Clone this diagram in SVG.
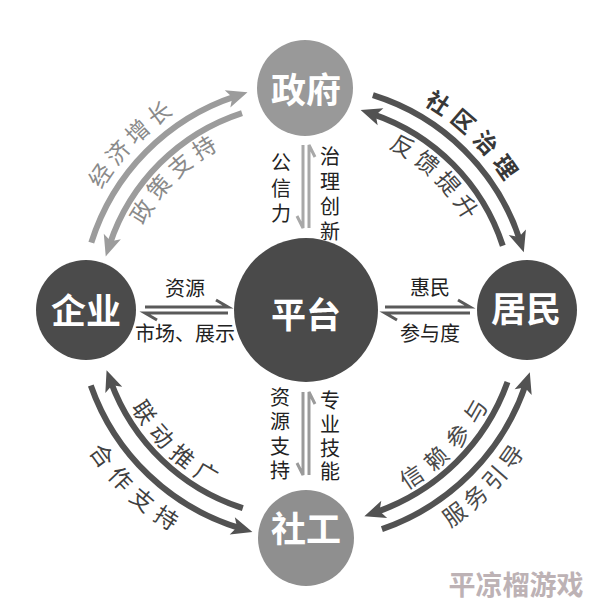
<svg xmlns="http://www.w3.org/2000/svg" width="594" height="612" viewBox="0 0 594 612">
<defs>
<style>
.cjk{font-family:"Noto Sans CJK SC","Noto Sans",sans-serif}
.nl{font-size:35px;font-weight:bold;fill:#fff;text-anchor:middle}
.lbl{font-size:20px;fill:#222;text-anchor:middle}
.arc{fill:none;stroke-width:6}
.light{stroke:#9c9c9c}
.dark{stroke:#525252}
.harp{fill:none;stroke-width:3;stroke-linejoin:miter}
.at{font-size:23px}
</style>
<marker id="ahL" markerUnits="userSpaceOnUse" markerWidth="32" markerHeight="26" viewBox="-10 -13 32 26" refX="0" refY="0" orient="auto"><path d="M12,0 L-9,-9 L-4,0 L-9,9 Z" fill="#9c9c9c"/></marker>
<marker id="ahD" markerUnits="userSpaceOnUse" markerWidth="32" markerHeight="26" viewBox="-10 -13 32 26" refX="0" refY="0" orient="auto"><path d="M12,0 L-9,-9 L-4,0 L-9,9 Z" fill="#525252"/></marker>
<path id="tp1" d="M69.4,296.8 A237,237 0 0 1 277.9,74.7"/>
<path id="tp2" d="M123.5,296.1 A183,183 0 0 1 288.0,127.9"/>
<path id="tp3" d="M320.1,73.4 A237,237 0 0 1 541.4,282.8"/>
<path id="tp4" d="M318.1,128.4 A182,182 0 0 1 486.9,290.3"/>
<path id="tp5" d="M106.9,329.2 A200,200 0 0 0 290.3,509.4"/>
<path id="tp6" d="M48.3,336.2 A259,259 0 0 0 287.0,568.3"/>
<path id="tp7" d="M326.8,514.9 A206,206 0 0 0 511.4,325.1"/>
<path id="tp8" d="M329.9,569.9 A261,261 0 0 0 566.1,331.6"/>
</defs>
<rect width="594" height="612" fill="#fff"/>

<g id="connectors">
  <!-- curved arrows -->
  <path class="arc light" d="M91.3,242.7 A225,225 0 0 1 236.1,96.1" marker-end="url(#ahL)"/>
  <path class="arc light" d="M242.0,113.1 A207,207 0 0 0 109.5,245.0" marker-end="url(#ahL)"/>
  <path class="arc dark" d="M372.9,95.2 A225,225 0 0 1 520.1,240.8" marker-end="url(#ahD)"/>
  <path class="arc dark" d="M502.8,245.7 A207,207 0 0 0 372.0,113.8" marker-end="url(#ahD)"/>
  <path class="arc dark" d="M242.8,508.2 A208,208 0 0 1 110.7,381.5" marker-end="url(#ahD)"/>
  <path class="arc dark" d="M90.8,385.4 A228,228 0 0 0 240.9,528.5" marker-end="url(#ahD)"/>
  <path class="arc dark" d="M507.5,382.1 A214,214 0 0 1 375.7,512.3" marker-end="url(#ahD)"/>
  <path class="arc dark" d="M381.9,529.2 A232,232 0 0 0 526.0,383.6" marker-end="url(#ahD)"/>

  <!-- straight harpoons -->
  <g stroke="#a8a8a8">
    <path class="harp" d="M303,145 L303,228 L297,216"/>
    <path class="harp" d="M309,228 L309,145 L315,157"/>
  </g>
  <g stroke="#9a9a9a">
    <path class="harp" d="M303,392 L303,475 L297,463"/>
    <path class="harp" d="M309,475 L309,392 L315,404"/>
  </g>
  <g stroke="#5a5a5a">
    <path class="harp" d="M145,307 L228,307 L216,300"/>
    <path class="harp" d="M228,313 L145,313 L157,320"/>
    <path class="harp" d="M385,307 L470,307 L458,300"/>
    <path class="harp" d="M470,313 L385,313 L397,320"/>
  </g>

  <!-- arc labels -->
  <text class="cjk at" fill="#8a8a8a" letter-spacing="4.6"><textPath href="#tp1" startOffset="167.8" text-anchor="middle">经济增长</textPath></text>
  <text class="cjk at" fill="#8a8a8a" letter-spacing="5.6"><textPath href="#tp2" startOffset="130.6" text-anchor="middle">政策支持</textPath></text>
  <text class="cjk at" fill="#383838" font-weight="bold" letter-spacing="7.1"><textPath href="#tp3" startOffset="169" text-anchor="middle">社区治理</textPath></text>
  <text class="cjk at" fill="#444" letter-spacing="5.2"><textPath href="#tp4" startOffset="129.7" text-anchor="middle">反馈提升</textPath></text>
  <text class="cjk at" fill="#404040" letter-spacing="7.5"><textPath href="#tp5" startOffset="143.4" text-anchor="middle">联动推广</textPath></text>
  <text class="cjk at" fill="#404040" letter-spacing="8.1"><textPath href="#tp6" startOffset="184.9" text-anchor="middle">合作支持</textPath></text>
  <text class="cjk at" fill="#4a4a4a" letter-spacing="9.1"><textPath href="#tp7" startOffset="148.3" text-anchor="middle">信赖参与</textPath></text>
  <text class="cjk at" fill="#4a4a4a" letter-spacing="5.1"><textPath href="#tp8" startOffset="184.7" text-anchor="middle">服务引导</textPath></text>

  <!-- straight labels -->
  <text class="cjk lbl" x="185" y="296">资源</text>
  <text class="cjk lbl" x="185" y="341">市场、展示</text>
  <text class="cjk lbl" x="430" y="295">惠民</text>
  <text class="cjk lbl" x="430" y="341">参与度</text>
  <g class="cjk lbl">
    <text x="281" y="169.6">公</text>
    <text x="281" y="195.6">信</text>
    <text x="281" y="220.6">力</text>
    <text x="330" y="163.6">治</text>
    <text x="330" y="188.6">理</text>
    <text x="330" y="213.6">创</text>
    <text x="330" y="238.6">新</text>
    <text x="280" y="404.6">资</text>
    <text x="280" y="429.1">源</text>
    <text x="280" y="453.6">支</text>
    <text x="280" y="478.1">持</text>
    <text x="330" y="407.6">专</text>
    <text x="330" y="431.6">业</text>
    <text x="330" y="455.6">技</text>
    <text x="330" y="478.6">能</text>
  </g>
</g>

<g id="node-zhengfu">
  <circle cx="305" cy="88" r="48" fill="#999"/>
  <text class="cjk nl" x="306" y="103">政府</text>
</g>
<g id="node-qiye">
  <circle cx="86" cy="310" r="50" fill="#4b4b4b"/>
  <text class="cjk nl" x="86" y="324">企业</text>
</g>
<g id="node-pingtai">
  <circle cx="306" cy="310" r="72" fill="#4a4a4a"/>
  <text class="cjk nl" x="306" y="328" font-size="46">平台</text>
</g>
<g id="node-jumin">
  <circle cx="527" cy="310" r="50" fill="#4b4b4b"/>
  <text class="cjk nl" x="526" y="322">居民</text>
</g>
<g id="node-shegong">
  <circle cx="306" cy="538" r="48" fill="#8f8f8f"/>
  <text class="cjk nl" x="306" y="542">社工</text>
</g>

<text class="cjk" x="516" y="595" font-size="27" font-weight="bold" fill="#bdb2b5" text-anchor="middle">平凉榴游戏</text>
</svg>
